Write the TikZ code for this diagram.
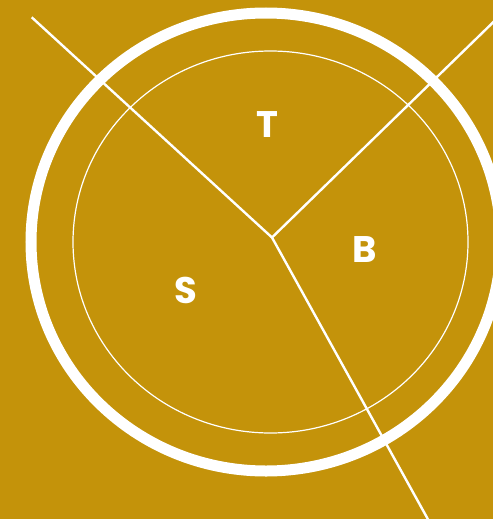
\documentclass[tikz,border=0pt]{standalone}
\usepackage{fontspec}
\setmainfont{Poppins}
\definecolor{bg}{RGB}{196,147,10}
\tikzset{
  ring/.style={draw=white, line width=11pt},
  thinring/.style={draw=white, line width=1.2pt},
  divider/.style={draw=white, line width=2.4pt},
  sector/.style={text=white, font=\fontsize{37}{37}\selectfont\bfseries, inner sep=0pt, anchor=center}
}
\begin{document}
\begin{tikzpicture}[x=1pt,y=-1pt]
  \useasboundingbox (0,0) rectangle (493,519);
  \fill[bg] (0,0) rectangle (493,519);
  \clip (0,0) rectangle (493,519);
  \draw[ring] (266,242) ellipse [x radius=235, y radius=229];
  \draw[thinring] (270.5,242) ellipse [x radius=197.5, y radius=191];
  \coordinate (c) at (272,237.5);
  \coordinate (tl) at (31.7,17.3);
  \coordinate (tr) at (515,1);
  \coordinate (bt) at (430,523);
  \draw[divider] (tl) -- (c);
  \draw[divider] (c) -- (tr);
  \draw[divider] (c) -- (bt);
  \node[sector] (T) at (267,125) {T};
  \node[sector] (B) at (364.5,250) {B};
  \node[sector] (S) at (186,290) {S};
\end{tikzpicture}
\end{document}
